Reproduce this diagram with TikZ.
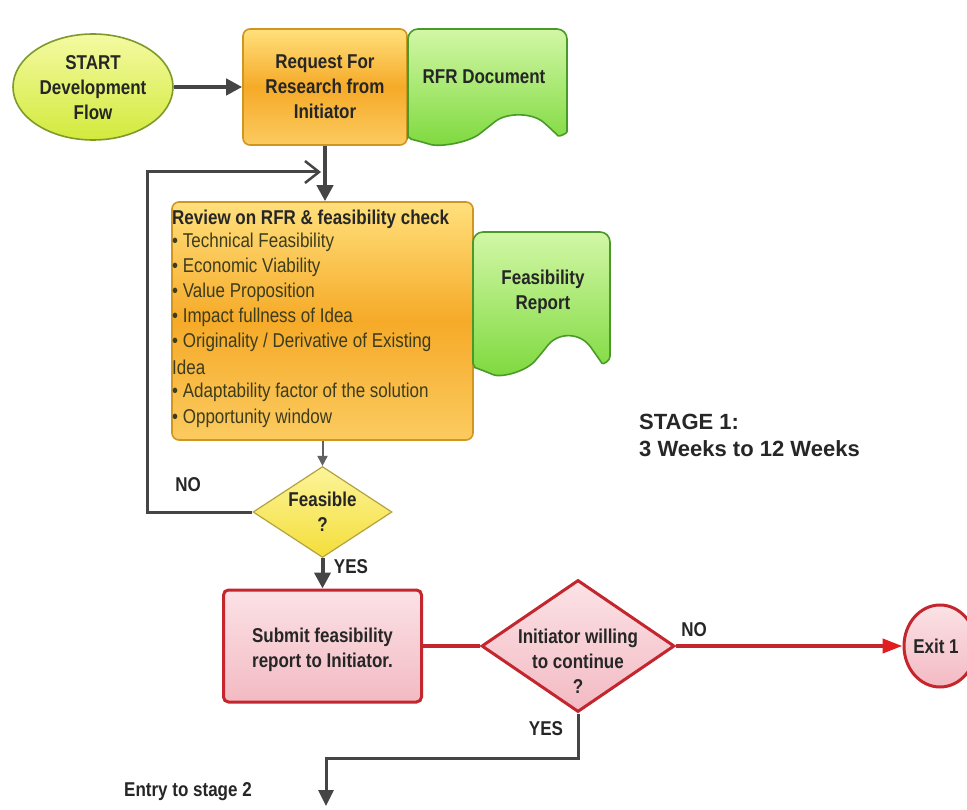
\documentclass[tikz,border=0pt]{standalone}
\usepackage{fontspec}
\setmainfont[FakeStretch=0.85]{Liberation Sans}
\newfontfamily\widefont{Liberation Sans}
\usetikzlibrary{shapes.geometric,arrows.meta,calc}
\definecolor{orgtop}{HTML}{FFE07C}
\definecolor{orgmid}{HTML}{F6AA28}
\definecolor{orgbot}{HTML}{FBCB60}
\definecolor{orgline}{HTML}{D0961F}
\definecolor{gtop}{HTML}{D2F7A6}
\definecolor{gbot}{HTML}{7ED93E}
\definecolor{gline}{HTML}{4A9A2A}
\definecolor{sttop}{HTML}{F4FAA2}
\definecolor{stbot}{HTML}{D2EA3C}
\definecolor{stline}{HTML}{7E9A2A}
\definecolor{ftop}{HTML}{FCF49A}
\definecolor{fbot}{HTML}{F4DE3A}
\definecolor{fline}{HTML}{B4A240}
\definecolor{rtop}{HTML}{FBE2E6}
\definecolor{rbot}{HTML}{F3BAC3}
\definecolor{rline}{HTML}{C4262E}
\definecolor{rarrow}{HTML}{E01E22}
\definecolor{conn}{HTML}{454545}
\definecolor{txtc}{HTML}{262626}
\definecolor{bulc}{HTML}{3C3C1E}
\begin{document}
\begin{tikzpicture}[x=1pt,y=-1pt,
  lbl/.style={font=\fontsize{20}{25}\selectfont\bfseries, text=txtc, align=center, inner sep=0pt},
  bul/.style={font=\fontsize{20}{25}\selectfont, text=bulc, anchor=west, inner sep=0pt, text height=14pt, text depth=4pt},
  bulhead/.style={bul, font=\fontsize{20}{25}\selectfont\bfseries, text=txtc},
  orangebox/.style={draw=orgline, line width=1.6pt, rounded corners=7pt, top color=orgtop, bottom color=orgbot, middle color=orgmid, inner sep=0pt},
  greendoc/.style={draw=gline, line width=1.6pt, top color=gtop, bottom color=gbot},
  startshape/.style={ellipse, draw=stline, line width=1.6pt, top color=sttop, bottom color=stbot, inner sep=0pt},
  feasshape/.style={diamond, draw=fline, line width=1.2pt, top color=ftop, bottom color=fbot, inner sep=0pt},
  redbox/.style={draw=rline, line width=3pt, rounded corners=5pt, top color=rtop, bottom color=rbot, inner sep=0pt},
  reddia/.style={diamond, draw=rline, line width=3pt, top color=rtop, bottom color=rbot, inner sep=0pt},
  redell/.style={ellipse, draw=rline, line width=3pt, top color=rtop, bottom color=rbot, inner sep=0pt},
  garrow/.style={draw=conn, line width=4pt, -{Triangle[length=16pt,width=16pt]}},
  thinarrow/.style={draw=conn!85, line width=2pt, -{Triangle[length=10pt,width=10pt]}},
  loopline/.style={draw=conn, line width=3pt, -{Straight Barb[length=14pt,width=22pt,line width=2.5pt]}},
  redline/.style={draw=rline, line width=4pt},
  redarrow/.style={draw=rline, line width=4pt, -{Triangle[length=20pt,width=14pt,color=rarrow]}},
  entryarrow/.style={draw=conn, line width=3pt, -{Triangle[length=16pt,width=15pt]}},
  stagetxt/.style={font=\widefont\fontsize{22}{27}\selectfont\bfseries, text=txtc, anchor=west, inner sep=0pt, align=left}
]
\useasboundingbox[fill=white] (0,0) rectangle (967,810);

% START
\node[startshape, minimum width=160pt, minimum height=106pt] (start) at (93,87) {};
\node[lbl] (startT) at (93,88) {START\\Development\\Flow};

% Request box
\node[orangebox, minimum width=164pt, minimum height=116pt] (req) at (325,87) {};
\node[lbl] (reqT) at (325,87) {Request For\\Research from\\Initiator};

% RFR document
\begin{scope}[shift={(408,29)}, xscale=159, yscale=116]
\path[greendoc, rounded corners=10pt] (0,0.85) -- (0,0) -- (1,0) -- (1,0.8)
  .. controls (1,0.9) and (0.95,0.93) .. (0.9,0.86)
  .. controls (0.78,0.72) and (0.62,0.72) .. (0.5,0.85)
  .. controls (0.38,0.98) and (0.2,1.02) .. (0.08,0.97)
  .. controls (0.02,0.95) and (0,0.92) .. (0,0.85) -- cycle;
\end{scope}
\node[lbl] (rfrT) at (484,77) {RFR Document};

% Review box
\node[orangebox, minimum width=301pt, minimum height=238pt] (rev) at (322.5,321) {};
\node[bulhead] (r0) at (172,220) {Review on RFR \& feasibility check};
\node[bul] (r1) at (172,243) {• Technical Feasibility};
\node[bul] (r2) at (172,268) {• Economic Viability};
\node[bul] (r3) at (172,293) {• Value Proposition};
\node[bul] (r4) at (172,318) {• Impact fullness of Idea};
\node[bul] (r5) at (172,343) {• Originality / Derivative of Existing};
\node[bul] (r6) at (172,369) {Idea};
\node[bul] (r7) at (172,393) {• Adaptability factor of the solution};
\node[bul] (r8) at (172,418) {• Opportunity window};

% Feasibility report document
\begin{scope}[shift={(473,232)}, xscale=137, yscale=143]
\path[greendoc, rounded corners=10pt] (0,0.85) -- (0,0) -- (1,0) -- (1,0.8)
  .. controls (1,0.9) and (0.95,0.93) .. (0.9,0.86)
  .. controls (0.78,0.70) and (0.62,0.70) .. (0.5,0.85)
  .. controls (0.38,0.98) and (0.2,1.02) .. (0.08,0.97)
  .. controls (0.02,0.95) and (0,0.92) .. (0,0.85) -- cycle;
\end{scope}
\node[lbl] (frT) at (543,292) {Feasibility\\Report};

% Stage text
\node[stagetxt] (stage) at (639,435) {STAGE 1:\\3 Weeks to 12 Weeks};

% Feasible diamond
\node[feasshape, minimum width=139pt, minimum height=91pt] (feas) at (322.5,512) {};
\node[lbl] (feasT) at (322.5,512) {Feasible\\?};

% Submit box
\node[redbox, minimum width=198pt, minimum height=112pt] (sub) at (322.5,646) {};
\node[lbl] (subT) at (322.5,650) {Submit feasibility\\report to Initiator.};

% Initiator diamond
\node[reddia, minimum width=193pt, minimum height=132pt] (dia) at (578,646) {};
\node[lbl] (diaT) at (578,661) {Initiator willing\\to continue\\?};

% Exit
\node[redell, minimum width=72pt, minimum height=82pt] (exit) at (940,646) {};
\node[lbl] (exitT) at (936,646) {Exit 1};

% labels
\node[lbl] (no1) at (188,485) {NO};
\node[lbl] (yes1) at (351,567) {YES};
\node[lbl] (no2) at (694,630) {NO};
\node[lbl] (yes2) at (546,729) {YES};
\node[lbl] (entry) at (188,792) {Entry to stage 2};

% coordinates
\coordinate (lc) at (147,172);
\coordinate (loopend) at (321,172);
\coordinate (bend) at (326,758);
\coordinate (entryend) at (326,806);

% connectors
\draw[garrow] (start.east) -- (req.west);
\draw[garrow] (req.south) -- (req.south |- rev.north);
\draw[loopline] (feas.west) -| (lc) -- (loopend);
\draw[thinarrow] (rev.south) -- (feas.north);
\draw[garrow] (feas.south) -- (sub.north);
\draw[redline] (sub.east) -- (dia.west);
\draw[redarrow] (dia.east) -- (exit.west);
\draw[entryarrow] (dia.south) |- (bend) -- (entryend);
\end{tikzpicture}
\end{document}
